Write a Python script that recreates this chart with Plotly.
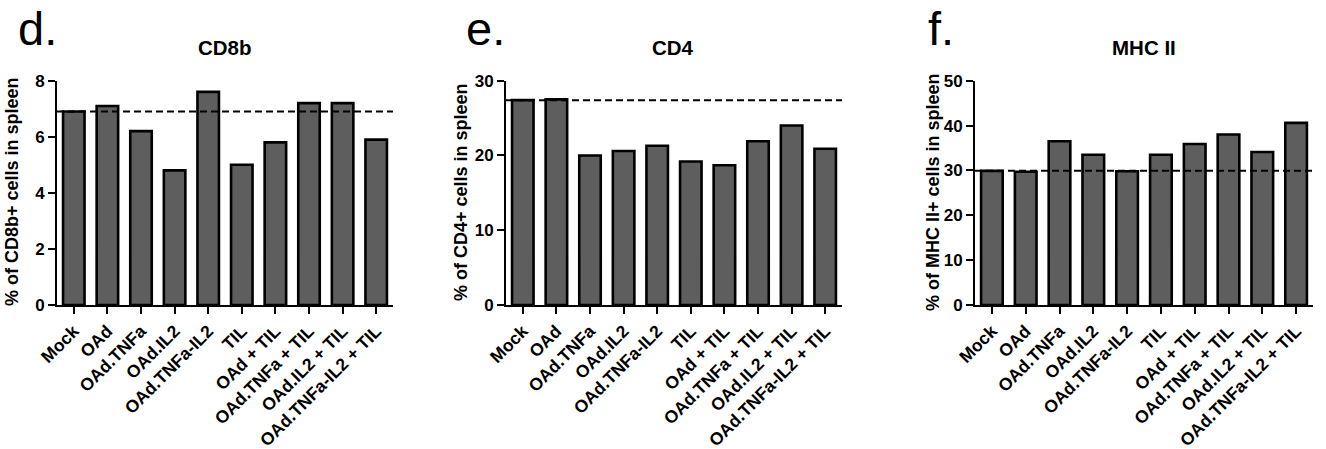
import plotly.graph_objects as go

categories = ["Mock", "OAd", "OAd.TNFa", "OAd.IL2", "OAd.TNFa-IL2", "TIL",
              "OAd + TIL", "OAd.TNFa + TIL", "OAd.IL2 + TIL", "OAd.TNFa-IL2 + TIL"]
cd8b_values = [6.9, 7.1, 6.2, 4.8, 7.6, 5.0, 5.8, 7.2, 7.2, 5.9]
cd4_values = [27.4, 27.5, 20.0, 20.6, 21.3, 19.2, 18.7, 21.9, 24.0, 20.9]
mhc2_values = [29.9, 29.7, 36.5, 33.5, 29.8, 33.5, 35.9, 38.0, 34.1, 40.6]

panel_letters = ["d.", "e.", "f."]
panel_titles = ["CD8b", "CD4", "MHC II"]
y_titles = ["% of CD8b+ cells in spleen", "% of CD4+ cells in spleen",
            "% of MHC II+ cells in spleen"]
y_max = [8, 30, 50]
y_dtick = [2, 10, 10]
series = [cd8b_values, cd4_values, mhc2_values]

W, H = 1326, 449
FONT = "Liberation Sans, Arial, Helvetica, sans-serif"


def px(x):
    return x / W


def py(y):
    return 1 - y / H


# plot-area pixel boxes (left, right) ; common top/bottom
x_boxes = [(57, 393), (506, 842), (975, 1313)]
top, bottom = 80.7, 305
letter_x = [16, 464, 926]
title_x = [225, 673, 1144]
ytitle_x = [12, 461, 933]

fig = go.Figure()
layout = dict(
    width=W, height=H, margin=dict(l=0, r=0, t=0, b=0, autoexpand=False),
    paper_bgcolor="white", plot_bgcolor="white", showlegend=False,
    font=dict(family=FONT, color="black"),
    annotations=[], shapes=[],
)

for i in range(3):
    xa = "x" if i == 0 else f"x{i+1}"
    ya = "y" if i == 0 else f"y{i+1}"
    xkey = "xaxis" if i == 0 else f"xaxis{i+1}"
    ykey = "yaxis" if i == 0 else f"yaxis{i+1}"
    fig.add_trace(go.Bar(
        x=categories, y=series[i], xaxis=xa, yaxis=ya, width=0.64,
        marker=dict(color="#5e5e5e", line=dict(color="black", width=2.6)),
    ))
    layout[xkey] = dict(
        domain=[px(x_boxes[i][0]), px(x_boxes[i][1])], anchor=ya,
        range=[-0.5, 9.5], showline=True, linecolor="black", linewidth=2,
        ticks="outside", ticklen=7, tickwidth=2, tickcolor="black",
        tickangle=-45, showgrid=False, zeroline=False, automargin=False,
        tickfont=dict(family=FONT, size=17.5, weight="bold", color="black"),
    )
    layout[ykey] = dict(
        domain=[py(bottom), py(top)], anchor=xa,
        range=[0, y_max[i]], dtick=y_dtick[i], showline=True,
        linecolor="black", linewidth=2, ticks="outside", ticklen=7,
        tickwidth=2, tickcolor="black", showgrid=False, zeroline=False,
        automargin=False,
        tickfont=dict(family=FONT, size=17, weight="bold", color="black"),
    )
    # dashed reference line at the Mock level
    layout["shapes"].append(dict(
        type="line", xref=f"{xa} domain", yref=ya, x0=0, x1=1,
        y0=series[i][0], y1=series[i][0], layer="above",
        line=dict(color="black", width=2, dash="7px,4px"),
    ))
    layout["annotations"].append(dict(
        text=panel_letters[i], xref="paper", yref="paper",
        x=px(letter_x[i]), y=py(28), xanchor="left", yanchor="middle",
        showarrow=False, font=dict(family=FONT, size=47, color="black"),
    ))
    layout["annotations"].append(dict(
        text=panel_titles[i], xref="paper", yref="paper",
        x=px(title_x[i]), y=py(47), xanchor="center", yanchor="middle",
        showarrow=False,
        font=dict(family=FONT, size=20.5, weight="bold", color="black"),
    ))
    layout["annotations"].append(dict(
        text=y_titles[i], xref="paper", yref="paper", textangle=-90,
        x=px(ytitle_x[i]), y=py(192), xanchor="center", yanchor="middle",
        showarrow=False,
        font=dict(family=FONT, size=18, weight="bold", color="black"),
    ))

fig.update_layout(**layout)
fig.write_html("out.html",
               config={"displayModeBar": False},
               post_script="document.body.style.margin='0px';")
